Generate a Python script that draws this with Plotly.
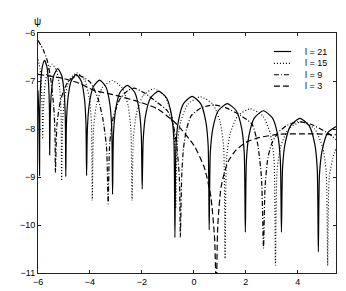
import plotly.graph_objects as go

# ---- data (v, psi) ----
v_l21 = [-6.0, -5.97, -5.94, -5.928, -5.90, -5.84, -5.75, -5.65, -5.59, -5.56, -5.55,
         -5.531, -5.488, -5.395, -5.24, -5.085, -4.992, -4.949, -4.93,
         -4.906, -4.85, -4.73, -4.53, -4.33, -4.21, -4.154, -4.13,
         -4.10, -4.03, -3.88, -3.63, -3.38, -3.23, -3.16, -3.13,
         -3.096, -3.016, -2.845, -2.56, -2.275, -2.104, -2.024, -1.99,
         -1.952, -1.864, -1.675, -1.36, -1.045, -0.856, -0.768, -0.73,
         -0.69, -0.598, -0.40, -0.07, 0.26, 0.458, 0.55, 0.59,
         0.632, 0.729, 0.938, 1.285, 1.632, 1.841, 1.938, 1.98,
         2.022, 2.119, 2.328, 2.675, 3.022, 3.231, 3.328, 3.37,
         3.413, 3.512, 3.725, 4.08, 4.435, 4.648, 4.747, 4.79,
         4.833, 4.935, 5.15, 5.47]
psi_l21 = [-7.2, -7.7, -8.97, -7.6, -7.09, -6.72, -6.57, -6.72, -7.09, -7.6, -8.54,
           -7.77, -7.26, -6.89, -6.74, -6.89, -7.26, -7.77, -8.99,
           -7.89, -7.38, -7.01, -6.86, -7.01, -7.38, -7.89, -8.97,
           -8.01, -7.50, -7.13, -6.98, -7.13, -7.50, -8.01, -9.36,
           -8.12, -7.61, -7.24, -7.09, -7.24, -7.61, -8.12, -9.25,
           -8.24, -7.73, -7.36, -7.21, -7.36, -7.73, -8.24, -10.26,
           -8.35, -7.84, -7.47, -7.32, -7.47, -7.84, -8.35, -10.1,
           -8.50, -7.99, -7.62, -7.47, -7.62, -7.99, -8.50, -10.15,
           -8.65, -8.14, -7.77, -7.62, -7.77, -8.14, -8.65, -10.15,
           -8.81, -8.30, -7.93, -7.78, -7.93, -8.30, -8.81, -10.56,
           -8.96, -8.45, -8.08, -7.95]

v_l15 = [-6.0, -5.92, -5.86, -5.835, -5.82,
         -5.798, -5.747, -5.6375, -5.455, -5.2725, -5.163, -5.112, -5.09,
         -5.055, -4.972, -4.795, -4.50, -4.205, -4.028, -3.945, -3.91,
         -3.864, -3.757, -3.5275, -3.145, -2.7625, -2.533, -2.426, -2.38,
         -2.33, -2.212, -1.96, -1.54, -1.12, -0.868, -0.75, -0.70,
         -0.643, -0.51, -0.225, 0.25, 0.725, 1.01, 1.143, 1.20,
         1.258, 1.394, 1.685, 2.17, 2.655, 2.946, 3.082, 3.14,
         3.20, 3.34, 3.64, 4.145, 4.65, 4.95, 5.09, 5.15,
         5.21, 5.35, 5.47]
psi_l15 = [-6.55, -6.75, -7.2, -7.7, -8.21,
           -7.68, -7.17, -6.80, -6.65, -6.80, -7.17, -7.68, -9.08,
           -7.86, -7.35, -6.98, -6.83, -6.98, -7.35, -7.86, -9.49,
           -8.02, -7.51, -7.14, -6.99, -7.14, -7.51, -8.02, -9.49,
           -8.19, -7.68, -7.31, -7.16, -7.31, -7.68, -8.19, -9.66,
           -8.36, -7.85, -7.48, -7.33, -7.48, -7.85, -8.36, -10.7,
           -8.61, -8.10, -7.73, -7.58, -7.73, -8.10, -8.61, -10.84,
           -8.88, -8.37, -8.00, -7.85, -8.00, -8.37, -8.88, -10.84,
           -9.0, -8.6, -8.4]

v_l9 = [-6.0, -5.8, -5.63, -5.5, -5.40, -5.35, -5.33,
        -5.27, -5.13, -4.85, -4.45, -4.0, -3.7, -3.5, -3.36, -3.30,
        -3.24, -3.10, -2.85, -2.55, -2.3, -1.9, -1.4, -1.02, -0.8, -0.65, -0.56, -0.52,
        -0.47, -0.40, -0.28, -0.10, 0.28, 0.75, 1.2, 1.8, 2.24, 2.45, 2.6, 2.68,
        2.74, 2.85, 3.0, 3.23, 3.6, 4.0, 4.5, 5.2, 5.47]
psi_l9 = [-6.15, -6.35, -6.6, -7.0, -7.5, -8.0, -8.9,
          -7.9, -7.4, -7.02, -6.88, -7.02, -7.35, -7.8, -8.4, -9.56,
          -8.3, -7.75, -7.38, -7.2, -7.15, -7.25, -7.45, -7.62, -7.9, -8.4, -9.0, -10.25,
          -9.0, -8.4, -8.0, -7.72, -7.56, -7.5, -7.55, -7.72, -7.9, -8.3, -9.0, -10.48,
          -9.2, -8.6, -8.3, -8.08, -7.92, -7.85, -7.9, -8.1, -8.22]

v_l3 = [-6.0, -5.0, -4.4, -3.87, -3.0, -2.2, -1.4, -0.7, 0.0, 0.4, 0.65, 0.8, 0.86,
        0.92, 1.05, 1.3, 1.6, 2.0, 2.5, 3.3, 4.5, 5.47]
psi_l3 = [-6.86, -6.95, -7.05, -7.19, -7.3, -7.42, -7.58, -7.88, -8.34, -8.8, -9.4, -10.3, -11.5,
          -10.0, -9.2, -8.7, -8.45, -8.28, -8.18, -8.11, -8.10, -8.12]

labels = ["l = 21", "l = 15", "l = 9", "l = 3"]
x_ticks = [-6, -4, -2, 0, 2, 4]
y_ticks = [-11, -10, -9, -8, -7, -6]

FONT = "Liberation Sans, Arial, sans-serif"
series = [(v_l21, psi_l21, "solid", 1.2),
          (v_l15, psi_l15, "1px,2px", 1.1),
          (v_l9, psi_l9, "5px,2px,1px,2px", 1.2),
          (v_l3, psi_l3, "6px,3px", 1.2)]

fig = go.Figure()
for (vx, vy, dash, w), name in zip(series, labels):
    fig.add_trace(go.Scatter(x=vx, y=vy, mode="lines", name=name, showlegend=False,
                             line=dict(color="black", width=w, dash=dash,
                                       shape="spline", smoothing=0.6)))

# manual legend (compact like the reference)
leg_y = [0.9229, 0.8735, 0.8261, 0.7787]
for (vx, vy, dash, w), name, yy in zip(series, labels, leg_y):
    fig.add_shape(type="line", xref="paper", yref="paper", x0=0.7917, x1=0.8494,
                  y0=yy, y1=yy, line=dict(color="black", width=w, dash=dash))
    fig.add_annotation(xref="paper", yref="paper", x=0.8878, y=yy, text=name,
                       showarrow=False, xanchor="left", yanchor="middle",
                       font=dict(family=FONT, size=9, color="black"))

fig.add_annotation(xref="paper", yref="paper", x=-0.003, y=1.048, text="ψ",
                   showarrow=False, xanchor="center", yanchor="middle",
                   font=dict(family=FONT, size=10, color="black"))
fig.add_annotation(xref="paper", yref="paper", x=1.024, y=0.0, text="v",
                   showarrow=False, xanchor="center", yanchor="middle",
                   font=dict(family=FONT, size=10, color="black"))

axis_common = dict(showgrid=False, zeroline=False, showline=True, linecolor="#222",
                   linewidth=1, mirror="ticks", ticks="inside", ticklen=3,
                   tickcolor="#222", tickfont=dict(family=FONT, size=9, color="black"))
fig.update_xaxes(range=[-6, 5.47], tickvals=x_ticks, **axis_common)
fig.update_yaxes(range=[-11, -6], tickvals=y_ticks, **axis_common)

fig.update_layout(width=346, height=291, margin=dict(l=16, r=18, t=25, b=13),
                  paper_bgcolor="white", plot_bgcolor="white",
                  font=dict(family=FONT, size=9, color="black"))
fig.write_html("out.html")
